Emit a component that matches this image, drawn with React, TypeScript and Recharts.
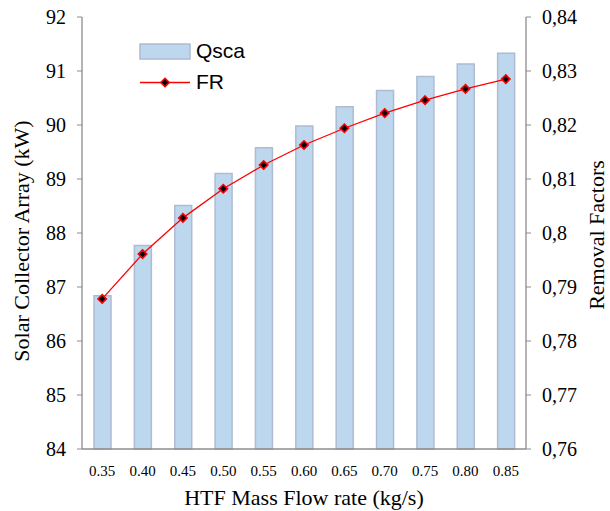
import React from "react";
import { ComposedChart, Bar, Line, XAxis, YAxis, Legend } from "recharts";

const categories = ["0.35", "0.40", "0.45", "0.50", "0.55", "0.60", "0.65", "0.70", "0.75", "0.80", "0.85"];
const qscaValues = [86.84, 87.77, 88.51, 89.1, 89.58, 89.98, 90.34, 90.64, 90.9, 91.13, 91.33];
const frValues = [0.7878, 0.7961, 0.8028, 0.8082, 0.8126, 0.8163, 0.8194, 0.8222, 0.8246, 0.8267, 0.8285];
const leftTicks = [84, 85, 86, 87, 88, 89, 90, 91, 92];
const rightTicks = [0.76, 0.77, 0.78, 0.79, 0.8, 0.81, 0.82, 0.83, 0.84];
const boundaryTicks = [0, 1, 2, 3, 4, 5, 6, 7, 8, 9, 10, 11];

const data = categories.map((c, i) => ({ cat: c, Qsca: qscaValues[i], FR: frValues[i] }));

const SERIF = "'Liberation Serif', 'Times New Roman', serif";
const SANS = "'Liberation Sans', Arial, sans-serif";
const AXIS = "#8c8c8c";

const Diamond = (props: any) => {
  const { cx, cy } = props;
  if (cx == null || cy == null) return null;
  const r = 4.2;
  return (
    <polygon
      points={`${cx},${cy - r} ${cx + r},${cy} ${cx},${cy + r} ${cx - r},${cy}`}
      fill="#000"
      stroke="#ff0000"
      strokeWidth={1.6}
    />
  );
};

const LegendContent = () => (
  <div style={{ fontFamily: SANS, fontSize: 21, color: "#000", lineHeight: "30px" }}>
    <div style={{ display: "flex", alignItems: "center", height: 30 }}>
      <svg width={52} height={17} style={{ marginRight: 5 }}>
        <rect x={1} y={1} width={50} height={15} fill="#BDD7EE" stroke="#AFBBD0" strokeWidth={1.5} />
      </svg>
      <span>Qsca</span>
    </div>
    <div style={{ display: "flex", alignItems: "center", height: 30, marginTop: 1 }}>
      <svg width={52} height={17} style={{ marginRight: 5 }}>
        <line x1={1} y1={8.5} x2={51} y2={8.5} stroke="#ff0000" strokeWidth={1.3} />
        <Diamond cx={26} cy={8.5} />
      </svg>
      <span>FR</span>
    </div>
  </div>
);

export default function App() {
  return (
    <div style={{ position: "absolute", left: 0, top: 0 }}>
      <ComposedChart width={610} height={511} data={data} margin={{ top: 17, right: 0, bottom: 0, left: 0 }}>
        <XAxis
          xAxisId="grid"
          type="number"
          domain={[0, 11]}
          ticks={boundaryTicks}
          allowDataOverflow
          tick={false}
          tickSize={5}
          tickLine={{ stroke: AXIS }}
          axisLine={false}
          height={0}
        />
        <XAxis
          xAxisId="cat"
          dataKey="cat"
          height={62}
          tickLine={false}
          axisLine={{ stroke: AXIS, strokeWidth: 1.3 }}
          tick={{ fontFamily: SERIF, fontSize: 15, fill: "#000" }}
          tickMargin={10}
          interval={0}
          label={(p: any) => {
            const vb = p.viewBox;
            return (
              <text x={vb.x + vb.width / 2} y={vb.y + 56} textAnchor="middle" fontFamily={SERIF} fontSize={22} fill="#000">
                HTF Mass Flow rate (kg/s)
              </text>
            );
          }}
        />
        <YAxis
          yAxisId="left"
          orientation="left"
          width={82}
          domain={[84, 92]}
          ticks={leftTicks}
          interval={0}
          tickSize={5}
          tickMargin={11}
          tickLine={{ stroke: AXIS }}
          axisLine={{ stroke: AXIS, strokeWidth: 1.3 }}
          tick={{ fontFamily: SERIF, fontSize: 20, fill: "#000" }}
          label={(p: any) => {
            const vb = p.viewBox;
            const cx = vb.x + 29;
            const cy = vb.y + vb.height / 2 + 8;
            return (
              <text x={cx} y={cy} transform={`rotate(-90 ${cx} ${cy})`} textAnchor="middle" fontFamily={SERIF} fontSize={22} fill="#000">
                Solar Collector Array (kW)
              </text>
            );
          }}
        />
        <YAxis
          yAxisId="right"
          orientation="right"
          width={84}
          domain={[0.76, 0.84]}
          ticks={rightTicks}
          interval={0}
          tickSize={5}
          tickMargin={11}
          tickLine={{ stroke: AXIS }}
          axisLine={{ stroke: AXIS, strokeWidth: 1.3 }}
          tick={{ fontFamily: SERIF, fontSize: 20, fill: "#000" }}
          tickFormatter={(v: number) => String(v).replace(".", ",")}
          label={(p: any) => {
            const vb = p.viewBox;
            const cx = vb.x + 78;
            const cy = vb.y + vb.height / 2 + 2;
            return (
              <text x={cx} y={cy} transform={`rotate(-90 ${cx} ${cy})`} textAnchor="middle" fontFamily={SERIF} fontSize={22} fill="#000">
                Removal Factors
              </text>
            );
          }}
        />
        <Legend
          layout="vertical"
          align="center"
          verticalAlign="middle"
          content={() => <LegendContent />}
          wrapperStyle={{ top: 36, left: 139, width: 140, height: 70 }}
        />
        <Bar
          xAxisId="cat"
          yAxisId="left"
          dataKey="Qsca"
          fill="#BDD7EE"
          stroke="#AFBBD0"
          strokeWidth={1.5}
          barSize={17}
          isAnimationActive={false}
        />
        <Line
          xAxisId="cat"
          yAxisId="right"
          dataKey="FR"
          type="linear"
          stroke="#ff0000"
          strokeWidth={1.3}
          dot={<Diamond />}
          activeDot={false}
          isAnimationActive={false}
        />
      </ComposedChart>
    </div>
  );
}
